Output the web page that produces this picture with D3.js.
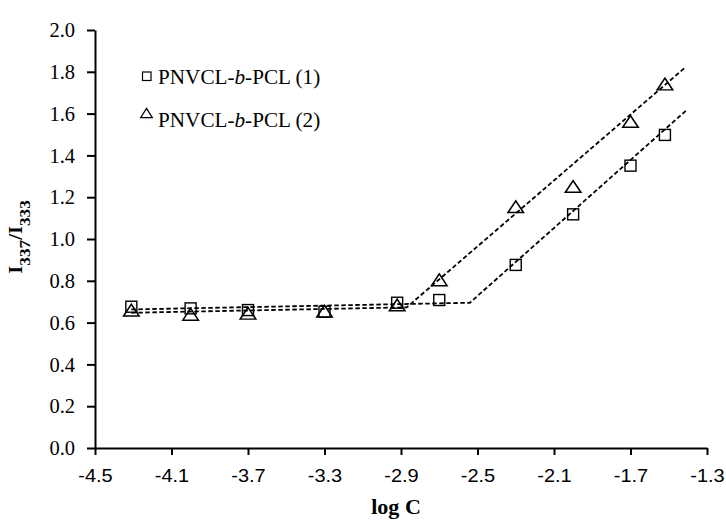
<!DOCTYPE html>
<html><head><meta charset="utf-8">
<script src="https://cdn.jsdelivr.net/npm/d3@7"></script>
<style>body{margin:0;background:#fff}svg{display:block}</style>
</head><body>
<svg id="c" width="726" height="520"></svg>
<script>
// ---- data ----
const logC = [-4.31, -4.0, -3.7, -3.3, -2.92, -2.7, -2.3, -2.0, -1.7, -1.52];
const ratio1 = [0.676, 0.668, 0.660, 0.652, 0.695, 0.708, 0.876, 1.118, 1.351, 1.498];
const ratio2 = [0.655, 0.635, 0.640, 0.650, 0.680, 0.800, 1.150, 1.247, 1.558, 1.737];
const fit1X = [-4.31, -2.54, -1.41];
const fit1Y = [0.663, 0.695, 1.614];
const fit2X = [-4.31, -2.87, -1.41];
const fit2Y = [0.647, 0.673, 1.824];
const xTicks = [-4.5, -4.1, -3.7, -3.3, -2.9, -2.5, -2.1, -1.7, -1.3];
const yTicks = [0, 0.2, 0.4, 0.6, 0.8, 1.0, 1.2, 1.4, 1.6, 1.8, 2.0];
const seriesNames = ["PNVCL-", "b", "-PCL (1)", "-PCL (2)"];

const serif = "'Liberation Serif','Times New Roman',serif";
const sans = "'Liberation Sans',Arial,sans-serif";

const svg = d3.select("#c");
const x = d3.scaleLinear().domain([-4.5, -1.3]).range([95, 707]);
const y = d3.scaleLinear().domain([0, 2]).range([448, 30]);
const fmt = d => d.toFixed(1);

// trend lines
const line = d3.line().x(d => x(d[0])).y(d => y(d[1]));
[[fit1X, fit1Y], [fit2X, fit2Y]].forEach(([fx, fy]) => {
  svg.append("path").datum(fx.map((v, i) => [v, fy[i]]))
    .attr("d", line).attr("fill", "none").attr("stroke", "#000")
    .attr("stroke-width", 1.8).attr("stroke-dasharray", "4.5,2.5");
});

// axes
const yAxis = svg.append("g").attr("transform", "translate(95,0)")
  .call(d3.axisLeft(y).tickValues(yTicks).tickFormat(fmt).tickSize(8).tickSizeOuter(0));
const xAxis = svg.append("g").attr("transform", "translate(0,448)")
  .call(d3.axisBottom(x).tickValues(xTicks).tickFormat(fmt).tickSize(7).tickSizeOuter(0));
[yAxis, xAxis].forEach(g => {
  g.select(".domain").attr("stroke", "#000").attr("stroke-width", 2);
  g.selectAll(".tick line").attr("stroke", "#000").attr("stroke-width", 2);
});
yAxis.selectAll(".tick text").attr("font-family", serif).attr("font-size", 20.5)
  .attr("fill", "#000").attr("x", -20).attr("dy", "0.33em");
xAxis.selectAll(".tick text").attr("font-family", sans).attr("font-size", 18.5)
  .attr("fill", "#000").attr("y", 0).attr("dy", 0)
  .attr("transform", "translate(0,34) scale(1.08,1)");

// markers
const tri = d3.symbol().type(d3.symbolTriangle).size(80);
svg.append("g").selectAll("rect").data(logC.map((v, i) => [v, ratio1[i]])).join("rect")
  .attr("x", d => x(d[0]) - 5.5).attr("y", d => y(d[1]) - 5.5)
  .attr("width", 11).attr("height", 11)
  .attr("fill", "none").attr("stroke", "#000").attr("stroke-width", 1.4);
svg.append("g").selectAll("path").data(logC.map((v, i) => [v, ratio2[i]])).join("path")
  .attr("d", tri).attr("transform", d => `translate(${x(d[0])},${y(d[1]) + 1}) scale(1.15,1)`)
  .attr("fill", "none").attr("stroke", "#000").attr("stroke-width", 1.4);

// legend
svg.append("rect").attr("x", 142.5).attr("y", 72).attr("width", 8.5).attr("height", 8.5)
  .attr("fill", "none").attr("stroke", "#000").attr("stroke-width", 1.2);
svg.append("path").attr("d", d3.symbol().type(d3.symbolTriangle).size(48))
  .attr("transform", "translate(146.5,114.5) scale(1.1,1)")
  .attr("fill", "none").attr("stroke", "#000").attr("stroke-width", 1.2);
[[84, seriesNames[2]], [127, seriesNames[3]]].forEach(([by, tail]) => {
  const t = svg.append("text").attr("transform", `translate(158,${by}) scale(1.06,1)`)
    .attr("font-family", serif).attr("font-size", 20).attr("fill", "#000");
  t.append("tspan").text(seriesNames[0]);
  t.append("tspan").attr("font-style", "italic").text(seriesNames[1]);
  t.append("tspan").text(tail);
});

// axis titles
svg.append("text").attr("transform", "translate(396,514) scale(1.05,1)")
  .attr("text-anchor", "middle").attr("font-family", serif).attr("font-weight", "bold")
  .attr("font-size", 21).attr("fill", "#000").text("log C");
const yt = svg.append("text").attr("transform", "translate(22,237) rotate(-90) scale(1.15,1)")
  .attr("text-anchor", "middle").attr("font-family", serif).attr("font-weight", "bold")
  .attr("font-size", 18).attr("fill", "#000");
yt.append("tspan").text("I");
yt.append("tspan").attr("font-size", 15).attr("dy", 8).text("337");
yt.append("tspan").attr("dy", -8).text("/I");
yt.append("tspan").attr("font-size", 15).attr("dy", 8).text("333");
</script>
</body></html>
